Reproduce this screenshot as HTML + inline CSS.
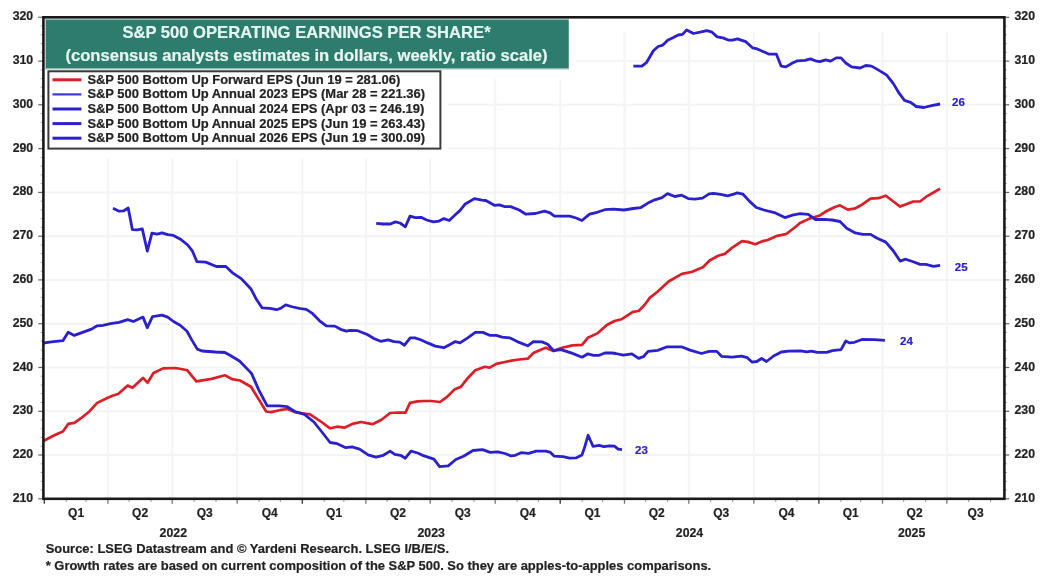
<!DOCTYPE html><html><head><meta charset="utf-8"><style>html,body{margin:0;padding:0;background:#fff;}svg{display:block;will-change:transform;}</style></head><body>
<svg width="1050" height="577" viewBox="0 0 1050 577">
<rect width="1050" height="577" fill="#fff"/>
<g stroke="#f4f4f4" stroke-width="2"><line x1="43.4" y1="455.0" x2="1004.4" y2="455.0"/><line x1="43.4" y1="411.3" x2="1004.4" y2="411.3"/><line x1="43.4" y1="367.5" x2="1004.4" y2="367.5"/><line x1="43.4" y1="323.7" x2="1004.4" y2="323.7"/><line x1="43.4" y1="279.9" x2="1004.4" y2="279.9"/><line x1="43.4" y1="236.2" x2="1004.4" y2="236.2"/><line x1="43.4" y1="192.4" x2="1004.4" y2="192.4"/><line x1="43.4" y1="148.6" x2="1004.4" y2="148.6"/><line x1="43.4" y1="104.8" x2="1004.4" y2="104.8"/><line x1="43.4" y1="61.1" x2="1004.4" y2="61.1"/><line x1="107.9" y1="32" x2="107.9" y2="498.8"/><line x1="172.2" y1="32" x2="172.2" y2="498.8"/><line x1="237.2" y1="32" x2="237.2" y2="498.8"/><line x1="302.3" y1="32" x2="302.3" y2="498.8"/><line x1="365.9" y1="32" x2="365.9" y2="498.8"/><line x1="430.2" y1="32" x2="430.2" y2="498.8"/><line x1="495.2" y1="32" x2="495.2" y2="498.8"/><line x1="560.2" y1="32" x2="560.2" y2="498.8"/><line x1="624.5" y1="32" x2="624.5" y2="498.8"/><line x1="688.8" y1="32" x2="688.8" y2="498.8"/><line x1="753.9" y1="32" x2="753.9" y2="498.8"/><line x1="818.9" y1="32" x2="818.9" y2="498.8"/><line x1="882.5" y1="32" x2="882.5" y2="498.8"/><line x1="946.8" y1="32" x2="946.8" y2="498.8"/></g>
<g stroke="#444" stroke-width="1.2"><line x1="38.3" y1="498.8" x2="43.4" y2="498.8" stroke="#666"/><line x1="1004.4" y1="498.8" x2="1009.3" y2="498.8" stroke="#666"/><line x1="38.3" y1="455.0" x2="43.4" y2="455.0" stroke="#666"/><line x1="1004.4" y1="455.0" x2="1009.3" y2="455.0" stroke="#666"/><line x1="38.3" y1="411.3" x2="43.4" y2="411.3" stroke="#666"/><line x1="1004.4" y1="411.3" x2="1009.3" y2="411.3" stroke="#666"/><line x1="38.3" y1="367.5" x2="43.4" y2="367.5" stroke="#666"/><line x1="1004.4" y1="367.5" x2="1009.3" y2="367.5" stroke="#666"/><line x1="38.3" y1="323.7" x2="43.4" y2="323.7" stroke="#666"/><line x1="1004.4" y1="323.7" x2="1009.3" y2="323.7" stroke="#666"/><line x1="38.3" y1="279.9" x2="43.4" y2="279.9" stroke="#666"/><line x1="1004.4" y1="279.9" x2="1009.3" y2="279.9" stroke="#666"/><line x1="38.3" y1="236.2" x2="43.4" y2="236.2" stroke="#666"/><line x1="1004.4" y1="236.2" x2="1009.3" y2="236.2" stroke="#666"/><line x1="38.3" y1="192.4" x2="43.4" y2="192.4" stroke="#666"/><line x1="1004.4" y1="192.4" x2="1009.3" y2="192.4" stroke="#666"/><line x1="38.3" y1="148.6" x2="43.4" y2="148.6" stroke="#666"/><line x1="1004.4" y1="148.6" x2="1009.3" y2="148.6" stroke="#666"/><line x1="38.3" y1="104.8" x2="43.4" y2="104.8" stroke="#666"/><line x1="1004.4" y1="104.8" x2="1009.3" y2="104.8" stroke="#666"/><line x1="38.3" y1="61.1" x2="43.4" y2="61.1" stroke="#666"/><line x1="1004.4" y1="61.1" x2="1009.3" y2="61.1" stroke="#666"/><line x1="38.3" y1="17.3" x2="43.4" y2="17.3" stroke="#666"/><line x1="1004.4" y1="17.3" x2="1009.3" y2="17.3" stroke="#666"/><line x1="40.6" y1="490.0" x2="43.4" y2="490.0" stroke="#aaa" stroke-width="1"/><line x1="1004.4" y1="490.0" x2="1007" y2="490.0" stroke="#aaa" stroke-width="1"/><line x1="40.6" y1="481.3" x2="43.4" y2="481.3" stroke="#aaa" stroke-width="1"/><line x1="1004.4" y1="481.3" x2="1007" y2="481.3" stroke="#aaa" stroke-width="1"/><line x1="40.6" y1="472.5" x2="43.4" y2="472.5" stroke="#aaa" stroke-width="1"/><line x1="1004.4" y1="472.5" x2="1007" y2="472.5" stroke="#aaa" stroke-width="1"/><line x1="40.6" y1="463.8" x2="43.4" y2="463.8" stroke="#aaa" stroke-width="1"/><line x1="1004.4" y1="463.8" x2="1007" y2="463.8" stroke="#aaa" stroke-width="1"/><line x1="40.6" y1="446.3" x2="43.4" y2="446.3" stroke="#aaa" stroke-width="1"/><line x1="1004.4" y1="446.3" x2="1007" y2="446.3" stroke="#aaa" stroke-width="1"/><line x1="40.6" y1="437.5" x2="43.4" y2="437.5" stroke="#aaa" stroke-width="1"/><line x1="1004.4" y1="437.5" x2="1007" y2="437.5" stroke="#aaa" stroke-width="1"/><line x1="40.6" y1="428.8" x2="43.4" y2="428.8" stroke="#aaa" stroke-width="1"/><line x1="1004.4" y1="428.8" x2="1007" y2="428.8" stroke="#aaa" stroke-width="1"/><line x1="40.6" y1="420.0" x2="43.4" y2="420.0" stroke="#aaa" stroke-width="1"/><line x1="1004.4" y1="420.0" x2="1007" y2="420.0" stroke="#aaa" stroke-width="1"/><line x1="40.6" y1="402.5" x2="43.4" y2="402.5" stroke="#aaa" stroke-width="1"/><line x1="1004.4" y1="402.5" x2="1007" y2="402.5" stroke="#aaa" stroke-width="1"/><line x1="40.6" y1="393.7" x2="43.4" y2="393.7" stroke="#aaa" stroke-width="1"/><line x1="1004.4" y1="393.7" x2="1007" y2="393.7" stroke="#aaa" stroke-width="1"/><line x1="40.6" y1="385.0" x2="43.4" y2="385.0" stroke="#aaa" stroke-width="1"/><line x1="1004.4" y1="385.0" x2="1007" y2="385.0" stroke="#aaa" stroke-width="1"/><line x1="40.6" y1="376.2" x2="43.4" y2="376.2" stroke="#aaa" stroke-width="1"/><line x1="1004.4" y1="376.2" x2="1007" y2="376.2" stroke="#aaa" stroke-width="1"/><line x1="40.6" y1="358.7" x2="43.4" y2="358.7" stroke="#aaa" stroke-width="1"/><line x1="1004.4" y1="358.7" x2="1007" y2="358.7" stroke="#aaa" stroke-width="1"/><line x1="40.6" y1="350.0" x2="43.4" y2="350.0" stroke="#aaa" stroke-width="1"/><line x1="1004.4" y1="350.0" x2="1007" y2="350.0" stroke="#aaa" stroke-width="1"/><line x1="40.6" y1="341.2" x2="43.4" y2="341.2" stroke="#aaa" stroke-width="1"/><line x1="1004.4" y1="341.2" x2="1007" y2="341.2" stroke="#aaa" stroke-width="1"/><line x1="40.6" y1="332.5" x2="43.4" y2="332.5" stroke="#aaa" stroke-width="1"/><line x1="1004.4" y1="332.5" x2="1007" y2="332.5" stroke="#aaa" stroke-width="1"/><line x1="40.6" y1="315.0" x2="43.4" y2="315.0" stroke="#aaa" stroke-width="1"/><line x1="1004.4" y1="315.0" x2="1007" y2="315.0" stroke="#aaa" stroke-width="1"/><line x1="40.6" y1="306.2" x2="43.4" y2="306.2" stroke="#aaa" stroke-width="1"/><line x1="1004.4" y1="306.2" x2="1007" y2="306.2" stroke="#aaa" stroke-width="1"/><line x1="40.6" y1="297.4" x2="43.4" y2="297.4" stroke="#aaa" stroke-width="1"/><line x1="1004.4" y1="297.4" x2="1007" y2="297.4" stroke="#aaa" stroke-width="1"/><line x1="40.6" y1="288.7" x2="43.4" y2="288.7" stroke="#aaa" stroke-width="1"/><line x1="1004.4" y1="288.7" x2="1007" y2="288.7" stroke="#aaa" stroke-width="1"/><line x1="40.6" y1="271.2" x2="43.4" y2="271.2" stroke="#aaa" stroke-width="1"/><line x1="1004.4" y1="271.2" x2="1007" y2="271.2" stroke="#aaa" stroke-width="1"/><line x1="40.6" y1="262.4" x2="43.4" y2="262.4" stroke="#aaa" stroke-width="1"/><line x1="1004.4" y1="262.4" x2="1007" y2="262.4" stroke="#aaa" stroke-width="1"/><line x1="40.6" y1="253.7" x2="43.4" y2="253.7" stroke="#aaa" stroke-width="1"/><line x1="1004.4" y1="253.7" x2="1007" y2="253.7" stroke="#aaa" stroke-width="1"/><line x1="40.6" y1="244.9" x2="43.4" y2="244.9" stroke="#aaa" stroke-width="1"/><line x1="1004.4" y1="244.9" x2="1007" y2="244.9" stroke="#aaa" stroke-width="1"/><line x1="40.6" y1="227.4" x2="43.4" y2="227.4" stroke="#aaa" stroke-width="1"/><line x1="1004.4" y1="227.4" x2="1007" y2="227.4" stroke="#aaa" stroke-width="1"/><line x1="40.6" y1="218.7" x2="43.4" y2="218.7" stroke="#aaa" stroke-width="1"/><line x1="1004.4" y1="218.7" x2="1007" y2="218.7" stroke="#aaa" stroke-width="1"/><line x1="40.6" y1="209.9" x2="43.4" y2="209.9" stroke="#aaa" stroke-width="1"/><line x1="1004.4" y1="209.9" x2="1007" y2="209.9" stroke="#aaa" stroke-width="1"/><line x1="40.6" y1="201.1" x2="43.4" y2="201.1" stroke="#aaa" stroke-width="1"/><line x1="1004.4" y1="201.1" x2="1007" y2="201.1" stroke="#aaa" stroke-width="1"/><line x1="40.6" y1="183.6" x2="43.4" y2="183.6" stroke="#aaa" stroke-width="1"/><line x1="1004.4" y1="183.6" x2="1007" y2="183.6" stroke="#aaa" stroke-width="1"/><line x1="40.6" y1="174.9" x2="43.4" y2="174.9" stroke="#aaa" stroke-width="1"/><line x1="1004.4" y1="174.9" x2="1007" y2="174.9" stroke="#aaa" stroke-width="1"/><line x1="40.6" y1="166.1" x2="43.4" y2="166.1" stroke="#aaa" stroke-width="1"/><line x1="1004.4" y1="166.1" x2="1007" y2="166.1" stroke="#aaa" stroke-width="1"/><line x1="40.6" y1="157.4" x2="43.4" y2="157.4" stroke="#aaa" stroke-width="1"/><line x1="1004.4" y1="157.4" x2="1007" y2="157.4" stroke="#aaa" stroke-width="1"/><line x1="40.6" y1="139.9" x2="43.4" y2="139.9" stroke="#aaa" stroke-width="1"/><line x1="1004.4" y1="139.9" x2="1007" y2="139.9" stroke="#aaa" stroke-width="1"/><line x1="40.6" y1="131.1" x2="43.4" y2="131.1" stroke="#aaa" stroke-width="1"/><line x1="1004.4" y1="131.1" x2="1007" y2="131.1" stroke="#aaa" stroke-width="1"/><line x1="40.6" y1="122.4" x2="43.4" y2="122.4" stroke="#aaa" stroke-width="1"/><line x1="1004.4" y1="122.4" x2="1007" y2="122.4" stroke="#aaa" stroke-width="1"/><line x1="40.6" y1="113.6" x2="43.4" y2="113.6" stroke="#aaa" stroke-width="1"/><line x1="1004.4" y1="113.6" x2="1007" y2="113.6" stroke="#aaa" stroke-width="1"/><line x1="40.6" y1="96.1" x2="43.4" y2="96.1" stroke="#aaa" stroke-width="1"/><line x1="1004.4" y1="96.1" x2="1007" y2="96.1" stroke="#aaa" stroke-width="1"/><line x1="40.6" y1="87.3" x2="43.4" y2="87.3" stroke="#aaa" stroke-width="1"/><line x1="1004.4" y1="87.3" x2="1007" y2="87.3" stroke="#aaa" stroke-width="1"/><line x1="40.6" y1="78.6" x2="43.4" y2="78.6" stroke="#aaa" stroke-width="1"/><line x1="1004.4" y1="78.6" x2="1007" y2="78.6" stroke="#aaa" stroke-width="1"/><line x1="40.6" y1="69.8" x2="43.4" y2="69.8" stroke="#aaa" stroke-width="1"/><line x1="1004.4" y1="69.8" x2="1007" y2="69.8" stroke="#aaa" stroke-width="1"/><line x1="40.6" y1="52.3" x2="43.4" y2="52.3" stroke="#aaa" stroke-width="1"/><line x1="1004.4" y1="52.3" x2="1007" y2="52.3" stroke="#aaa" stroke-width="1"/><line x1="40.6" y1="43.6" x2="43.4" y2="43.6" stroke="#aaa" stroke-width="1"/><line x1="1004.4" y1="43.6" x2="1007" y2="43.6" stroke="#aaa" stroke-width="1"/><line x1="40.6" y1="34.8" x2="43.4" y2="34.8" stroke="#aaa" stroke-width="1"/><line x1="1004.4" y1="34.8" x2="1007" y2="34.8" stroke="#aaa" stroke-width="1"/><line x1="40.6" y1="26.1" x2="43.4" y2="26.1" stroke="#aaa" stroke-width="1"/><line x1="1004.4" y1="26.1" x2="1007" y2="26.1" stroke="#aaa" stroke-width="1"/><line x1="44.3" y1="498.8" x2="44.3" y2="503.8" stroke="#333" stroke-width="1.3"/><line x1="66.2" y1="498.8" x2="66.2" y2="502.0" stroke="#999" stroke-width="1"/><line x1="86.0" y1="498.8" x2="86.0" y2="502.0" stroke="#999" stroke-width="1"/><line x1="107.9" y1="498.8" x2="107.9" y2="503.8" stroke="#777" stroke-width="1.3"/><line x1="129.1" y1="498.8" x2="129.1" y2="502.0" stroke="#999" stroke-width="1"/><line x1="151.0" y1="498.8" x2="151.0" y2="502.0" stroke="#999" stroke-width="1"/><line x1="172.2" y1="498.8" x2="172.2" y2="503.8" stroke="#777" stroke-width="1.3"/><line x1="194.1" y1="498.8" x2="194.1" y2="502.0" stroke="#999" stroke-width="1"/><line x1="216.0" y1="498.8" x2="216.0" y2="502.0" stroke="#999" stroke-width="1"/><line x1="237.2" y1="498.8" x2="237.2" y2="503.8" stroke="#777" stroke-width="1.3"/><line x1="259.1" y1="498.8" x2="259.1" y2="502.0" stroke="#999" stroke-width="1"/><line x1="280.3" y1="498.8" x2="280.3" y2="502.0" stroke="#999" stroke-width="1"/><line x1="302.3" y1="498.8" x2="302.3" y2="503.8" stroke="#333" stroke-width="1.3"/><line x1="324.2" y1="498.8" x2="324.2" y2="502.0" stroke="#999" stroke-width="1"/><line x1="343.9" y1="498.8" x2="343.9" y2="502.0" stroke="#999" stroke-width="1"/><line x1="365.9" y1="498.8" x2="365.9" y2="503.8" stroke="#777" stroke-width="1.3"/><line x1="387.1" y1="498.8" x2="387.1" y2="502.0" stroke="#999" stroke-width="1"/><line x1="409.0" y1="498.8" x2="409.0" y2="502.0" stroke="#999" stroke-width="1"/><line x1="430.2" y1="498.8" x2="430.2" y2="503.8" stroke="#777" stroke-width="1.3"/><line x1="452.1" y1="498.8" x2="452.1" y2="502.0" stroke="#999" stroke-width="1"/><line x1="474.0" y1="498.8" x2="474.0" y2="502.0" stroke="#999" stroke-width="1"/><line x1="495.2" y1="498.8" x2="495.2" y2="503.8" stroke="#777" stroke-width="1.3"/><line x1="517.1" y1="498.8" x2="517.1" y2="502.0" stroke="#999" stroke-width="1"/><line x1="538.3" y1="498.8" x2="538.3" y2="502.0" stroke="#999" stroke-width="1"/><line x1="560.2" y1="498.8" x2="560.2" y2="503.8" stroke="#333" stroke-width="1.3"/><line x1="582.1" y1="498.8" x2="582.1" y2="502.0" stroke="#999" stroke-width="1"/><line x1="602.6" y1="498.8" x2="602.6" y2="502.0" stroke="#999" stroke-width="1"/><line x1="624.5" y1="498.8" x2="624.5" y2="503.8" stroke="#777" stroke-width="1.3"/><line x1="645.7" y1="498.8" x2="645.7" y2="502.0" stroke="#999" stroke-width="1"/><line x1="667.6" y1="498.8" x2="667.6" y2="502.0" stroke="#999" stroke-width="1"/><line x1="688.8" y1="498.8" x2="688.8" y2="503.8" stroke="#777" stroke-width="1.3"/><line x1="710.7" y1="498.8" x2="710.7" y2="502.0" stroke="#999" stroke-width="1"/><line x1="732.7" y1="498.8" x2="732.7" y2="502.0" stroke="#999" stroke-width="1"/><line x1="753.9" y1="498.8" x2="753.9" y2="503.8" stroke="#777" stroke-width="1.3"/><line x1="775.8" y1="498.8" x2="775.8" y2="502.0" stroke="#999" stroke-width="1"/><line x1="797.0" y1="498.8" x2="797.0" y2="502.0" stroke="#999" stroke-width="1"/><line x1="818.9" y1="498.8" x2="818.9" y2="503.8" stroke="#333" stroke-width="1.3"/><line x1="840.8" y1="498.8" x2="840.8" y2="502.0" stroke="#999" stroke-width="1"/><line x1="860.6" y1="498.8" x2="860.6" y2="502.0" stroke="#999" stroke-width="1"/><line x1="882.5" y1="498.8" x2="882.5" y2="503.8" stroke="#777" stroke-width="1.3"/><line x1="903.7" y1="498.8" x2="903.7" y2="502.0" stroke="#999" stroke-width="1"/><line x1="925.6" y1="498.8" x2="925.6" y2="502.0" stroke="#999" stroke-width="1"/><line x1="946.8" y1="498.8" x2="946.8" y2="503.8" stroke="#777" stroke-width="1.3"/><line x1="968.7" y1="498.8" x2="968.7" y2="502.0" stroke="#999" stroke-width="1"/><line x1="990.6" y1="498.8" x2="990.6" y2="502.0" stroke="#999" stroke-width="1"/></g>
<path d="M43.4,441.0 L54.3,435.3 L62.9,431.5 L68.2,423.9 L74.3,422.9 L81.0,418.2 L89.6,411.2 L97.2,402.9 L106.7,398.2 L112.4,395.7 L118.2,394.0 L127.7,385.5 L132.5,387.7 L143.0,377.9 L147.5,382.7 L153.5,373.0 L163.0,368.4 L175.4,368.0 L181.1,369.0 L187.3,370.3 L196.3,381.4 L211.6,378.9 L224.9,375.3 L232.0,379.1 L240.0,380.5 L251.0,386.7 L258.6,399.1 L266.2,411.5 L271.0,412.1 L279.6,410.2 L287.2,409.0 L294.8,412.1 L302.4,413.4 L310.1,414.4 L321.5,422.0 L330.1,428.3 L337.2,426.7 L344.4,427.7 L352.5,423.9 L361.0,422.0 L372.5,424.2 L381.5,419.8 L390.1,413.0 L398.2,412.5 L405.4,412.7 L410.0,402.9 L417.5,401.4 L425.0,401.0 L431.2,401.0 L440.0,402.0 L446.7,397.2 L454.3,389.6 L461.0,386.7 L467.7,378.2 L475.3,370.2 L484.8,366.7 L489.6,367.7 L496.3,363.9 L503.9,362.3 L511.5,360.6 L519.1,359.5 L527.7,358.7 L533.4,353.0 L542.0,349.2 L545.8,347.7 L553.5,351.1 L561.1,348.0 L572.5,345.4 L582.1,344.8 L587.8,337.8 L597.3,333.4 L606.8,325.0 L614.5,321.0 L621.4,319.3 L632.9,311.9 L638.6,311.0 L644.3,305.3 L650.0,297.6 L657.2,292.0 L668.6,281.5 L681.9,273.9 L691.5,272.0 L702.9,267.2 L709.6,260.5 L718.2,255.8 L724.8,253.9 L731.5,248.2 L742.0,241.1 L747.7,241.9 L755.3,244.3 L763.0,241.1 L767.7,240.0 L777.3,235.8 L785.9,234.2 L796.3,226.2 L800.0,223.0 L809.5,218.6 L819.1,215.8 L826.7,211.0 L834.3,207.2 L840.0,205.3 L847.7,209.7 L854.3,208.7 L861.0,205.3 L870.5,198.6 L878.2,198.2 L885.8,195.7 L893.4,201.5 L900.1,206.6 L906.8,203.9 L913.4,201.5 L920.1,201.5 L926.8,196.3 L933.5,192.5 L940.1,188.7" fill="none" stroke="#dc1f27" stroke-width="2.7" stroke-linejoin="round" stroke-linecap="butt"/>
<path d="M43.4,343.0 L51.4,341.9 L62.9,340.7 L68.2,332.3 L74.3,335.4 L83.9,331.9 L91.5,329.1 L97.2,325.8 L102.9,325.3 L110.5,323.6 L119.1,322.4 L127.7,319.6 L133.4,321.5 L143.0,317.1 L147.3,327.7 L152.5,316.7 L162.0,315.2 L167.7,317.1 L173.5,321.5 L180.1,325.3 L186.8,331.0 L191.6,339.6 L197.3,349.1 L202.1,351.0 L215.4,352.0 L224.9,352.5 L230.4,355.5 L239.5,361.0 L251.5,373.4 L258.6,389.6 L267.2,405.8 L279.6,405.8 L287.2,406.7 L294.8,411.5 L304.4,414.4 L313.9,422.0 L321.5,431.5 L330.1,442.5 L337.2,443.7 L345.8,447.7 L352.0,446.9 L359.6,449.2 L368.1,454.9 L375.8,457.2 L383.4,455.3 L390.1,451.1 L394.8,454.3 L400.5,455.3 L405.3,458.2 L411.0,451.1 L417.7,453.0 L423.4,455.7 L433.9,459.1 L439.6,466.7 L448.2,465.8 L455.8,459.5 L463.5,456.2 L473.0,450.5 L482.5,449.6 L490.2,452.4 L497.8,451.9 L505.0,453.5 L510.8,455.9 L515.3,455.3 L521.0,452.7 L528.6,453.4 L536.2,451.1 L545.8,451.1 L550.5,452.4 L554.3,456.2 L562.9,456.6 L569.6,458.2 L576.3,457.8 L582.0,454.9 L584.8,446.7 L588.1,435.3 L593.0,446.3 L599.1,445.4 L603.9,446.7 L609.6,445.8 L614.4,446.1 L618.2,449.2 L622.0,449.6" fill="none" stroke="#2a20cc" stroke-width="2.8" stroke-linejoin="round" stroke-linecap="butt"/>
<path d="M113.0,208.3 L119.1,211.2 L123.8,210.8 L128.2,208.0 L132.4,229.7 L137.2,229.9 L142.3,228.9 L147.3,251.2 L151.9,233.1 L157.2,234.1 L162.0,232.8 L167.7,234.7 L173.4,235.4 L180.1,238.9 L187.7,245.0 L192.5,251.2 L196.9,261.7 L205.8,262.1 L216.3,266.5 L225.8,266.5 L232.5,272.8 L241.2,278.6 L250.8,288.7 L256.7,299.8 L262.0,307.8 L270.0,308.4 L276.7,309.7 L280.5,308.4 L285.7,304.9 L292.9,307.0 L300.5,308.7 L306.3,309.3 L312.0,313.1 L319.6,320.8 L326.3,325.9 L334.9,326.1 L340.6,329.3 L346.3,331.2 L350.1,330.3 L357.7,330.7 L367.3,334.5 L373.9,338.5 L380.6,341.3 L388.2,339.8 L394.0,341.7 L399.7,342.1 L404.5,345.2 L410.2,337.9 L414.9,337.9 L421.3,340.0 L427.6,342.9 L435.3,346.1 L443.8,347.7 L450.5,344.2 L455.3,341.6 L460.0,342.9 L467.7,337.8 L475.3,332.4 L482.9,332.4 L489.6,335.3 L496.3,335.3 L502.0,337.2 L509.6,337.8 L517.2,341.6 L527.7,345.8 L533.4,341.6 L542.0,341.9 L547.7,344.2 L553.5,350.5 L561.1,349.6 L572.5,353.4 L582.1,357.2 L587.8,353.8 L593.5,355.3 L599.2,355.3 L604.9,353.0 L612.0,353.0 L615.7,353.5 L623.3,355.2 L631.9,353.9 L638.6,358.3 L643.4,356.7 L648.1,351.4 L657.7,350.4 L667.2,346.8 L681.5,346.8 L690.1,350.1 L701.5,353.5 L709.1,351.4 L716.8,351.4 L721.5,356.3 L732.0,357.1 L741.6,356.2 L747.3,357.7 L752.0,362.1 L756.8,361.5 L761.6,358.5 L766.5,361.5 L773.6,356.0 L781.3,352.0 L788.6,351.1 L800.3,350.8 L806.7,351.9 L811.5,351.1 L817.2,352.4 L826.7,352.4 L832.4,350.7 L841.0,349.6 L845.8,341.0 L849.6,342.9 L854.4,342.3 L862.0,339.5 L874.4,339.7 L884.9,340.4" fill="none" stroke="#2a20cc" stroke-width="2.8" stroke-linejoin="round" stroke-linecap="butt"/>
<path d="M376.2,223.4 L382.9,224.0 L390.5,224.0 L395.3,221.9 L400.0,223.0 L405.4,226.8 L410.0,216.1 L415.3,217.7 L421.0,217.3 L426.7,220.0 L433.4,221.9 L439.1,221.1 L443.9,218.6 L449.2,220.5 L455.3,214.8 L460.1,210.4 L464.9,204.3 L474.4,198.6 L482.0,200.1 L485.8,200.5 L494.4,205.3 L499.2,204.9 L504.9,206.6 L510.6,206.6 L519.2,210.0 L525.9,214.2 L535.4,213.5 L544.4,211.1 L550.1,212.9 L554.4,216.1 L561.0,216.1 L569.6,216.1 L576.2,218.0 L581.9,220.5 L589.6,214.2 L597.2,212.3 L604.8,209.7 L613.4,209.1 L623.9,210.0 L633.4,208.5 L640.5,207.7 L647.9,203.1 L654.8,199.8 L662.0,197.6 L667.5,193.6 L674.8,196.5 L681.7,195.2 L688.2,198.6 L694.8,199.1 L702.5,198.1 L709.1,193.9 L713.5,193.3 L720.6,194.3 L727.7,195.9 L734.5,193.8 L737.2,192.9 L743.0,194.2 L749.6,201.4 L756.3,207.5 L763.9,210.0 L775.4,212.9 L784.9,217.6 L792.5,215.2 L800.1,213.7 L808.2,214.3 L815.5,219.5 L824.0,219.3 L832.0,220.0 L840.0,221.5 L846.7,228.2 L855.3,232.9 L862.9,234.4 L870.5,234.4 L877.2,238.3 L885.8,242.1 L893.4,251.0 L900.1,261.1 L905.8,259.2 L912.5,261.5 L920.1,264.4 L925.8,264.4 L933.5,266.3 L940.1,265.3" fill="none" stroke="#2a20cc" stroke-width="2.8" stroke-linejoin="round" stroke-linecap="butt"/>
<path d="M633.3,66.1 L641.9,66.1 L646.7,62.3 L653.4,50.8 L658.1,46.5 L662.9,45.1 L667.7,40.2 L673.4,37.5 L678.2,35.0 L682.5,34.4 L686.7,29.9 L693.4,33.5 L700.1,32.2 L706.7,30.6 L711.5,31.8 L717.2,36.9 L723.0,37.9 L728.7,40.2 L732.5,40.2 L737.3,38.8 L745.8,41.7 L752.5,47.8 L757.3,48.9 L768.7,54.1 L776.3,54.1 L781.1,66.1 L785.9,66.9 L792.5,63.0 L797.3,60.8 L804.9,60.4 L810.5,58.9 L815.3,60.8 L820.0,61.7 L825.7,59.8 L830.5,61.1 L836.2,57.9 L841.0,57.9 L845.8,63.0 L851.5,66.9 L860.1,68.0 L865.8,65.5 L871.5,66.1 L878.2,69.9 L886.7,75.1 L893.4,83.6 L899.1,93.2 L904.5,100.4 L910.6,102.3 L916.3,106.5 L923.9,107.5 L931.6,105.6 L940.1,104.0" fill="none" stroke="#2a20cc" stroke-width="2.8" stroke-linejoin="round" stroke-linecap="butt"/>
<rect x="44.7" y="18.6" width="530.9" height="60.4" fill="#fff"/>
<rect x="44.7" y="18.6" width="403.3" height="140.4" fill="#fff"/>
<rect x="44.7" y="18.6" width="524.3" height="51.0" fill="#a9cdc5"/>
<rect x="46.0" y="19.8" width="522.6" height="48.4" fill="#2e7c6d"/>
<text x="306.5" y="38.4" text-anchor="middle" font-family="Liberation Sans, sans-serif" font-weight="bold" font-size="16.6" fill="#e4f7f2" stroke="#e4f7f2" stroke-width="0.2">S&amp;P 500 OPERATING EARNINGS PER SHARE*</text>
<text x="306.5" y="61.0" text-anchor="middle" font-family="Liberation Sans, sans-serif" font-weight="bold" font-size="16.6" fill="#e4f7f2" stroke="#e4f7f2" stroke-width="0.2">(consensus analysts estimates in dollars, weekly, ratio scale)</text>
<rect x="48.4" y="71.3" width="392.0" height="77.3" fill="#fff" stroke="#3a3a3a" stroke-width="2"/>
<line x1="52.5" y1="79.8" x2="81.4" y2="79.8" stroke="#dc1f27" stroke-width="3"/>
<text x="87.4" y="83.8" font-family="Liberation Sans, sans-serif" font-weight="bold" font-size="12.95" fill="#222222" stroke="#222222" stroke-width="0.2">S&amp;P 500 Bottom Up Forward EPS (Jun 19 = 281.06)</text>
<line x1="52.5" y1="94.4" x2="81.4" y2="94.4" stroke="#3b36e6" stroke-width="2.2"/>
<text x="87.4" y="98.3" font-family="Liberation Sans, sans-serif" font-weight="bold" font-size="12.95" fill="#222222" stroke="#222222" stroke-width="0.2">S&amp;P 500 Bottom Up Annual 2023 EPS (Mar 28 = 221.36)</text>
<line x1="52.5" y1="109.0" x2="81.4" y2="109.0" stroke="#2a20cc" stroke-width="3"/>
<text x="87.4" y="113.0" font-family="Liberation Sans, sans-serif" font-weight="bold" font-size="12.95" fill="#222222" stroke="#222222" stroke-width="0.2">S&amp;P 500 Bottom Up Annual 2024 EPS (Apr 03 = 246.19)</text>
<line x1="52.5" y1="123.6" x2="81.4" y2="123.6" stroke="#2a20cc" stroke-width="3"/>
<text x="87.4" y="127.5" font-family="Liberation Sans, sans-serif" font-weight="bold" font-size="12.95" fill="#222222" stroke="#222222" stroke-width="0.2">S&amp;P 500 Bottom Up Annual 2025 EPS (Jun 19 = 263.43)</text>
<line x1="52.5" y1="138.2" x2="81.4" y2="138.2" stroke="#2a20cc" stroke-width="3"/>
<text x="87.4" y="142.2" font-family="Liberation Sans, sans-serif" font-weight="bold" font-size="12.95" fill="#222222" stroke="#222222" stroke-width="0.2">S&amp;P 500 Bottom Up Annual 2026 EPS (Jun 19 = 300.09)</text>
<rect x="43.4" y="17.3" width="961.0" height="481.5" fill="none" stroke="#1a1a1a" stroke-width="2.6"/>
<text x="33.2" y="501.8" text-anchor="end" font-family="Liberation Sans, sans-serif" font-weight="bold" font-size="12.3" fill="#222222" stroke="#222222" stroke-width="0.2">210</text>
<text x="1014.5" y="501.8" font-family="Liberation Sans, sans-serif" font-weight="bold" font-size="12.3" fill="#222222" stroke="#222222" stroke-width="0.2">210</text>
<text x="33.2" y="458.0" text-anchor="end" font-family="Liberation Sans, sans-serif" font-weight="bold" font-size="12.3" fill="#222222" stroke="#222222" stroke-width="0.2">220</text>
<text x="1014.5" y="458.0" font-family="Liberation Sans, sans-serif" font-weight="bold" font-size="12.3" fill="#222222" stroke="#222222" stroke-width="0.2">220</text>
<text x="33.2" y="414.3" text-anchor="end" font-family="Liberation Sans, sans-serif" font-weight="bold" font-size="12.3" fill="#222222" stroke="#222222" stroke-width="0.2">230</text>
<text x="1014.5" y="414.3" font-family="Liberation Sans, sans-serif" font-weight="bold" font-size="12.3" fill="#222222" stroke="#222222" stroke-width="0.2">230</text>
<text x="33.2" y="370.5" text-anchor="end" font-family="Liberation Sans, sans-serif" font-weight="bold" font-size="12.3" fill="#222222" stroke="#222222" stroke-width="0.2">240</text>
<text x="1014.5" y="370.5" font-family="Liberation Sans, sans-serif" font-weight="bold" font-size="12.3" fill="#222222" stroke="#222222" stroke-width="0.2">240</text>
<text x="33.2" y="326.7" text-anchor="end" font-family="Liberation Sans, sans-serif" font-weight="bold" font-size="12.3" fill="#222222" stroke="#222222" stroke-width="0.2">250</text>
<text x="1014.5" y="326.7" font-family="Liberation Sans, sans-serif" font-weight="bold" font-size="12.3" fill="#222222" stroke="#222222" stroke-width="0.2">250</text>
<text x="33.2" y="282.9" text-anchor="end" font-family="Liberation Sans, sans-serif" font-weight="bold" font-size="12.3" fill="#222222" stroke="#222222" stroke-width="0.2">260</text>
<text x="1014.5" y="282.9" font-family="Liberation Sans, sans-serif" font-weight="bold" font-size="12.3" fill="#222222" stroke="#222222" stroke-width="0.2">260</text>
<text x="33.2" y="239.2" text-anchor="end" font-family="Liberation Sans, sans-serif" font-weight="bold" font-size="12.3" fill="#222222" stroke="#222222" stroke-width="0.2">270</text>
<text x="1014.5" y="239.2" font-family="Liberation Sans, sans-serif" font-weight="bold" font-size="12.3" fill="#222222" stroke="#222222" stroke-width="0.2">270</text>
<text x="33.2" y="195.4" text-anchor="end" font-family="Liberation Sans, sans-serif" font-weight="bold" font-size="12.3" fill="#222222" stroke="#222222" stroke-width="0.2">280</text>
<text x="1014.5" y="195.4" font-family="Liberation Sans, sans-serif" font-weight="bold" font-size="12.3" fill="#222222" stroke="#222222" stroke-width="0.2">280</text>
<text x="33.2" y="151.6" text-anchor="end" font-family="Liberation Sans, sans-serif" font-weight="bold" font-size="12.3" fill="#222222" stroke="#222222" stroke-width="0.2">290</text>
<text x="1014.5" y="151.6" font-family="Liberation Sans, sans-serif" font-weight="bold" font-size="12.3" fill="#222222" stroke="#222222" stroke-width="0.2">290</text>
<text x="33.2" y="107.8" text-anchor="end" font-family="Liberation Sans, sans-serif" font-weight="bold" font-size="12.3" fill="#222222" stroke="#222222" stroke-width="0.2">300</text>
<text x="1014.5" y="107.8" font-family="Liberation Sans, sans-serif" font-weight="bold" font-size="12.3" fill="#222222" stroke="#222222" stroke-width="0.2">300</text>
<text x="33.2" y="64.1" text-anchor="end" font-family="Liberation Sans, sans-serif" font-weight="bold" font-size="12.3" fill="#222222" stroke="#222222" stroke-width="0.2">310</text>
<text x="1014.5" y="64.1" font-family="Liberation Sans, sans-serif" font-weight="bold" font-size="12.3" fill="#222222" stroke="#222222" stroke-width="0.2">310</text>
<text x="33.2" y="20.3" text-anchor="end" font-family="Liberation Sans, sans-serif" font-weight="bold" font-size="12.3" fill="#222222" stroke="#222222" stroke-width="0.2">320</text>
<text x="1014.5" y="20.3" font-family="Liberation Sans, sans-serif" font-weight="bold" font-size="12.3" fill="#222222" stroke="#222222" stroke-width="0.2">320</text>
<text x="76.1" y="517.2" text-anchor="middle" font-family="Liberation Sans, sans-serif" font-weight="bold" font-size="12" fill="#222222" stroke="#222222" stroke-width="0.2">Q1</text>
<text x="140.1" y="517.2" text-anchor="middle" font-family="Liberation Sans, sans-serif" font-weight="bold" font-size="12" fill="#222222" stroke="#222222" stroke-width="0.2">Q2</text>
<text x="204.7" y="517.2" text-anchor="middle" font-family="Liberation Sans, sans-serif" font-weight="bold" font-size="12" fill="#222222" stroke="#222222" stroke-width="0.2">Q3</text>
<text x="269.7" y="517.2" text-anchor="middle" font-family="Liberation Sans, sans-serif" font-weight="bold" font-size="12" fill="#222222" stroke="#222222" stroke-width="0.2">Q4</text>
<text x="334.1" y="517.2" text-anchor="middle" font-family="Liberation Sans, sans-serif" font-weight="bold" font-size="12" fill="#222222" stroke="#222222" stroke-width="0.2">Q1</text>
<text x="398.0" y="517.2" text-anchor="middle" font-family="Liberation Sans, sans-serif" font-weight="bold" font-size="12" fill="#222222" stroke="#222222" stroke-width="0.2">Q2</text>
<text x="462.7" y="517.2" text-anchor="middle" font-family="Liberation Sans, sans-serif" font-weight="bold" font-size="12" fill="#222222" stroke="#222222" stroke-width="0.2">Q3</text>
<text x="527.7" y="517.2" text-anchor="middle" font-family="Liberation Sans, sans-serif" font-weight="bold" font-size="12" fill="#222222" stroke="#222222" stroke-width="0.2">Q4</text>
<text x="592.4" y="517.2" text-anchor="middle" font-family="Liberation Sans, sans-serif" font-weight="bold" font-size="12" fill="#222222" stroke="#222222" stroke-width="0.2">Q1</text>
<text x="656.7" y="517.2" text-anchor="middle" font-family="Liberation Sans, sans-serif" font-weight="bold" font-size="12" fill="#222222" stroke="#222222" stroke-width="0.2">Q2</text>
<text x="721.3" y="517.2" text-anchor="middle" font-family="Liberation Sans, sans-serif" font-weight="bold" font-size="12" fill="#222222" stroke="#222222" stroke-width="0.2">Q3</text>
<text x="786.4" y="517.2" text-anchor="middle" font-family="Liberation Sans, sans-serif" font-weight="bold" font-size="12" fill="#222222" stroke="#222222" stroke-width="0.2">Q4</text>
<text x="850.7" y="517.2" text-anchor="middle" font-family="Liberation Sans, sans-serif" font-weight="bold" font-size="12" fill="#222222" stroke="#222222" stroke-width="0.2">Q1</text>
<text x="914.6" y="517.2" text-anchor="middle" font-family="Liberation Sans, sans-serif" font-weight="bold" font-size="12" fill="#222222" stroke="#222222" stroke-width="0.2">Q2</text>
<text x="975.6" y="517.2" text-anchor="middle" font-family="Liberation Sans, sans-serif" font-weight="bold" font-size="12" fill="#222222" stroke="#222222" stroke-width="0.2">Q3</text>
<text x="173.3" y="536.8" text-anchor="middle" font-family="Liberation Sans, sans-serif" font-weight="bold" font-size="12.3" fill="#222222" stroke="#222222" stroke-width="0.2">2022</text>
<text x="431.2" y="536.8" text-anchor="middle" font-family="Liberation Sans, sans-serif" font-weight="bold" font-size="12.3" fill="#222222" stroke="#222222" stroke-width="0.2">2023</text>
<text x="689.5" y="536.8" text-anchor="middle" font-family="Liberation Sans, sans-serif" font-weight="bold" font-size="12.3" fill="#222222" stroke="#222222" stroke-width="0.2">2024</text>
<text x="911.6" y="536.8" text-anchor="middle" font-family="Liberation Sans, sans-serif" font-weight="bold" font-size="12.3" fill="#222222" stroke="#222222" stroke-width="0.2">2025</text>
<text x="635.0" y="454.0" font-family="Liberation Sans, sans-serif" font-weight="bold" font-size="11.5" fill="#2a20cc" stroke="#2a20cc" stroke-width="0.2">23</text>
<text x="900.1" y="345.4" font-family="Liberation Sans, sans-serif" font-weight="bold" font-size="11.5" fill="#2a20cc" stroke="#2a20cc" stroke-width="0.2">24</text>
<text x="954.8" y="270.5" font-family="Liberation Sans, sans-serif" font-weight="bold" font-size="11.5" fill="#2a20cc" stroke="#2a20cc" stroke-width="0.2">25</text>
<text x="952.1" y="106.0" font-family="Liberation Sans, sans-serif" font-weight="bold" font-size="11.5" fill="#2a20cc" stroke="#2a20cc" stroke-width="0.2">26</text>
<text x="45.7" y="552.9" font-family="Liberation Sans, sans-serif" font-weight="bold" font-size="12.95" fill="#222222" stroke="#222222" stroke-width="0.2">Source: LSEG Datastream and © Yardeni Research. LSEG I/B/E/S.</text>
<text x="45.7" y="570.3" font-family="Liberation Sans, sans-serif" font-weight="bold" font-size="12.95" fill="#222222" stroke="#222222" stroke-width="0.2">* Growth rates are based on current composition of the S&amp;P 500. So they are apples-to-apples comparisons.</text>
</svg></body></html>
